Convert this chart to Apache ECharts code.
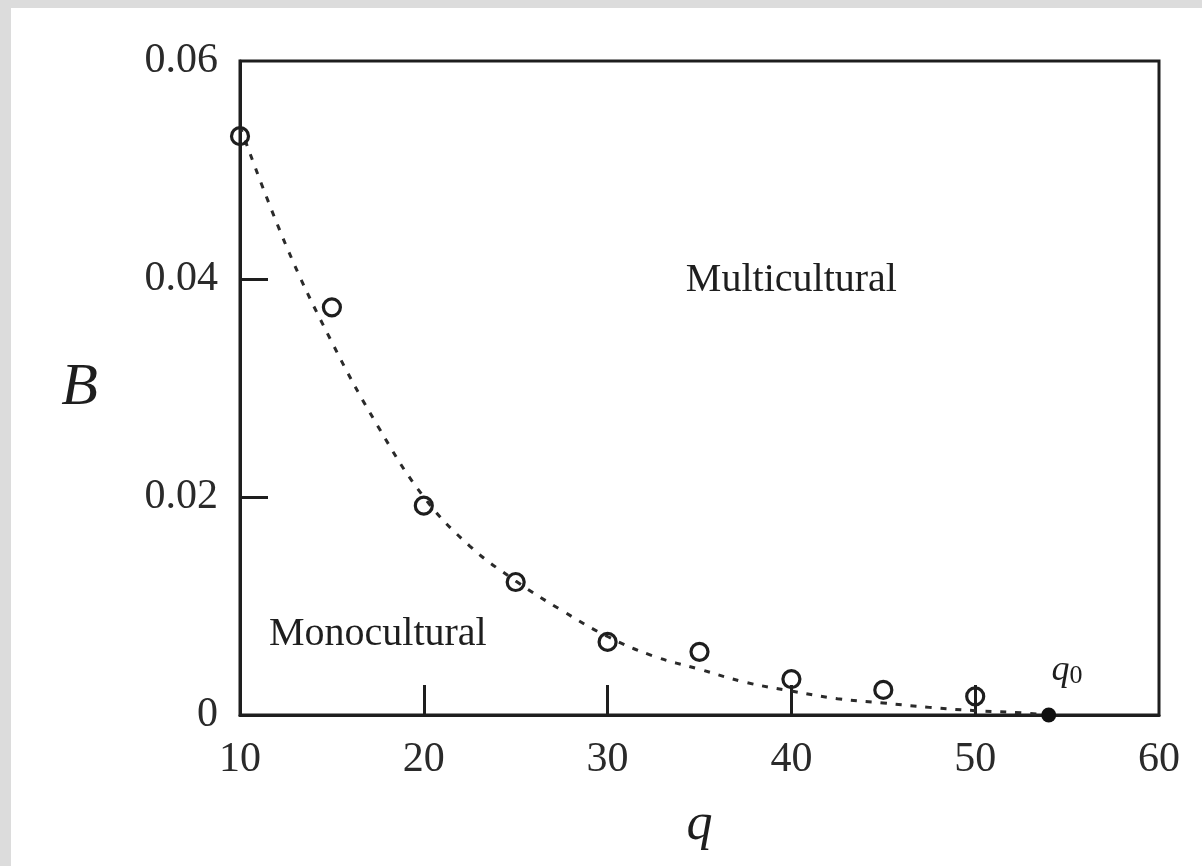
<!DOCTYPE html>
<html>
<head>
<meta charset="utf-8">
<script src="https://cdn.jsdelivr.net/npm/echarts@6/dist/echarts.min.js"></script>
<style>
html,body{margin:0;padding:0;background:#dcdcdc;}
#c{width:1202px;height:866px;}
</style>
</head>
<body>
<div id="c"></div>
<script>
// Simulation points (open circles)
const simQ = [10, 15, 20, 25, 30, 35, 40, 45, 50];
const simB = [0.0531, 0.0374, 0.0192, 0.0122, 0.0067, 0.0058, 0.0033, 0.0023, 0.0017];
// Dashed fitted curve
const curveQ = [10, 12.5, 15, 17.5, 20, 22.5, 25, 27.5, 30, 32.5, 35, 37.5, 40, 42.5, 45, 47.5, 50, 52.5, 54];
const curveB = [0.0540, 0.0431, 0.0342, 0.0265, 0.0200, 0.0155, 0.0123, 0.0096, 0.0072, 0.0054, 0.0042, 0.0030, 0.0022, 0.0015, 0.0011, 0.0007, 0.0004, 0.0002, 0.0];
// Critical point q0
const q0Point = [54, 0];
// Region labels
const regionLabels = [
  {name: 'Multicultural', q: 40, B: 0.0399},
  {name: 'Monocultural', q: 17.5, B: 0.0074}
];
const q0LabelPos = [55, 0.0041];
const xTicks = [10, 20, 30, 40, 50, 60];
const yTicks = [0, 0.02, 0.04, 0.06];
const xInnerTicks = [20, 30, 40, 50];
const yInnerTicks = [0.02, 0.04];

const ink = '#1e1e1e';
const serif = 'Liberation Serif';

const chart = echarts.init(document.getElementById('c'), null, {renderer: 'canvas'});
chart.setOption({
  backgroundColor: '#dcdcdc',
  animation: false,
  graphic: [{
    type: 'rect', left: 11, top: 8, z: -100,
    shape: {width: 1191, height: 858},
    style: {fill: '#ffffff'}
  }],
  grid: {left: 240, right: 43, top: 61, bottom: 151, show: true, borderColor: ink, borderWidth: 3, backgroundColor: 'transparent'},
  xAxis: {
    type: 'value', min: xTicks[0], max: xTicks[xTicks.length - 1], interval: 10,
    name: 'q', nameLocation: 'middle', nameGap: 84,
    nameTextStyle: {fontFamily: serif, fontStyle: 'italic', fontSize: 52, color: ink},
    axisLine: {show: true, lineStyle: {color: ink, width: 3}},
    axisTick: {show: true, inside: true, length: 30, customValues: xInnerTicks, lineStyle: {color: ink, width: 3}},
    axisLabel: {fontFamily: serif, fontSize: 42, color: '#2a2a2a', margin: 24, customValues: xTicks},
    splitLine: {show: false}
  },
  yAxis: {
    type: 'value', min: yTicks[0], max: yTicks[yTicks.length - 1], interval: 0.02,
    name: 'B', nameLocation: 'middle', nameGap: 142, nameRotate: 0,
    nameTextStyle: {fontFamily: serif, fontStyle: 'italic', fontSize: 60, color: ink},
    axisLine: {show: true, lineStyle: {color: ink, width: 3}},
    axisTick: {show: true, inside: true, length: 28, customValues: yInnerTicks, lineStyle: {color: ink, width: 3}},
    axisLabel: {fontFamily: serif, fontSize: 42, color: '#2a2a2a', margin: 22, customValues: yTicks,
      padding: [6, 0, 0, 0],
      formatter: v => v === 0 ? '0' : v.toFixed(2)},
    splitLine: {show: false}
  },
  series: [
    {
      type: 'line', data: curveQ.map((q, i) => [q, curveB[i]]),
      smooth: 0.4, showSymbol: false, z: 2,
      lineStyle: {color: '#2a2a2a', width: 3, type: [6, 9]}
    },
    {
      type: 'scatter', data: simQ.map((q, i) => [q, simB[i]]),
      symbol: 'circle', symbolSize: 17, z: 3,
      itemStyle: {color: 'rgba(255,255,255,0)', borderColor: ink, borderWidth: 3.2, opacity: 1}
    },
    {
      type: 'scatter', data: [q0Point], symbol: 'circle', symbolSize: 15, z: 4,
      itemStyle: {color: '#111', opacity: 1}
    },
    {
      type: 'scatter', symbolSize: 0, z: 5, silent: true,
      itemStyle: {opacity: 1},
      data: regionLabels.map(r => ({value: [r.q, r.B], name: r.name})),
      label: {show: true, position: 'inside', formatter: p => p.name,
        fontFamily: serif, fontSize: 40, color: '#1e1e1e'}
    },
    {
      type: 'scatter', symbolSize: 0, z: 5, silent: true,
      itemStyle: {opacity: 1},
      data: [{value: q0LabelPos}],
      label: {show: true, position: 'inside', formatter: '{q|q}{s|0}',
        rich: {
          q: {fontFamily: serif, fontStyle: 'italic', fontSize: 36, color: '#1e1e1e'},
          s: {fontFamily: serif, fontSize: 26, color: '#1e1e1e', padding: [12, 0, 0, 0]}
        }}
    }
  ]
});
</script>
</body>
</html>
